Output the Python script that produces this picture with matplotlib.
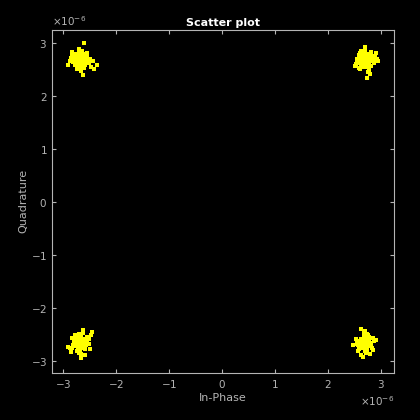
import matplotlib
matplotlib.use("Agg")
import matplotlib.pyplot as plt
from matplotlib.ticker import ScalarFormatter

# received symbols, in units of 1e-6
ul_x = [-2.68, -2.72, -2.60, -2.75, -2.65, -2.58, -2.80, -2.70, -2.62, -2.77,
        -2.66, -2.55, -2.85, -2.73, -2.63, -2.69, -2.59, -2.82, -2.71, -2.64,
        -2.50, -2.88, -2.67, -2.52, -2.78, -2.60, -2.74, -2.56, -2.91, -2.47,
        -2.62, -2.60, -2.42, -2.44, -2.36, -2.84, -2.70, -2.76, -2.66, -2.69,
        -2.61, -2.74, -2.67, -2.57, -2.79, -2.64, -2.71, -2.59, -2.76, -2.68,
        -2.63, -2.73, -2.55, -2.81, -2.66, -2.70, -2.58, -2.77, -2.62, -2.72,
        -2.65, -2.75, -2.60, -2.69, -2.54, -2.83, -2.67, -2.71, -2.63, -2.78]
ul_y = [2.70, 2.65, 2.72, 2.75, 2.60, 2.66, 2.68, 2.80, 2.78, 2.58,
        2.52, 2.74, 2.72, 2.62, 2.67, 2.57, 2.59, 2.63, 2.74, 2.84,
        2.70, 2.66, 2.46, 2.62, 2.79, 2.53, 2.50, 2.80, 2.58, 2.55,
        2.40, 3.00, 2.50, 2.65, 2.58, 2.82, 2.88, 2.69, 2.71, 2.64,
        2.68, 2.72, 2.63, 2.70, 2.66, 2.76, 2.60, 2.62, 2.64, 2.73,
        2.58, 2.68, 2.66, 2.71, 2.69, 2.56, 2.77, 2.61, 2.70, 2.75,
        2.65, 2.59, 2.64, 2.82, 2.69, 2.76, 2.55, 2.67, 2.74, 2.71]

ur_x = [2.68, 2.72, 2.62, 2.76, 2.66, 2.58, 2.80, 2.70, 2.64, 2.77,
        2.73, 2.55, 2.84, 2.60, 2.69, 2.74, 2.59, 2.82, 2.71, 2.65,
        2.52, 2.88, 2.78, 2.56, 2.67, 2.63, 2.75, 2.90, 2.86, 2.94,
        2.74, 2.79, 2.50, 2.81, 2.70, 2.61, 2.93, 2.66, 2.72, 2.68,
        2.62, 2.74, 2.67, 2.57, 2.79, 2.64, 2.71, 2.59, 2.76, 2.68,
        2.63, 2.73, 2.55, 2.81, 2.66, 2.70, 2.58, 2.77, 2.62, 2.72,
        2.65, 2.75, 2.60, 2.69, 2.54, 2.83, 2.67, 2.71, 2.63, 2.78]
ur_y = [2.70, 2.66, 2.74, 2.72, 2.60, 2.68, 2.76, 2.82, 2.64, 2.58,
        2.54, 2.62, 2.67, 2.80, 2.88, 2.78, 2.52, 2.57, 2.63, 2.72,
        2.60, 2.74, 2.48, 2.70, 2.55, 2.85, 2.45, 2.80, 2.62, 2.65,
        2.33, 2.42, 2.57, 2.83, 2.92, 2.50, 2.70, 2.77, 2.59, 2.69,
        2.68, 2.72, 2.63, 2.70, 2.66, 2.76, 2.60, 2.62, 2.64, 2.73,
        2.58, 2.68, 2.66, 2.71, 2.69, 2.56, 2.77, 2.61, 2.70, 2.75,
        2.65, 2.59, 2.64, 2.82, 2.69, 2.76, 2.55, 2.67, 2.74, 2.71]

ll_x = [-2.68, -2.72, -2.62, -2.76, -2.66, -2.58, -2.80, -2.70, -2.64, -2.77,
        -2.73, -2.55, -2.84, -2.60, -2.69, -2.74, -2.59, -2.82, -2.71, -2.65,
        -2.52, -2.88, -2.78, -2.56, -2.67, -2.63, -2.75, -2.62, -2.46, -2.48,
        -2.52, -2.86, -2.66, -2.90, -2.58, -2.70, -2.80, -2.50, -2.74, -2.64,
        -2.61, -2.74, -2.67, -2.57, -2.79, -2.64, -2.71, -2.59, -2.76, -2.68,
        -2.63, -2.73, -2.55, -2.81, -2.66, -2.70, -2.58, -2.77, -2.62, -2.72,
        -2.65, -2.75, -2.60, -2.69, -2.54, -2.83, -2.67, -2.71, -2.63, -2.78]
ll_y = [-2.68, -2.64, -2.72, -2.70, -2.60, -2.74, -2.66, -2.78, -2.58, -2.62,
        -2.80, -2.69, -2.57, -2.76, -2.54, -2.82, -2.63, -2.72, -2.86, -2.67,
        -2.59, -2.75, -2.52, -2.56, -2.88, -2.48, -2.60, -2.42, -2.45, -2.52,
        -2.68, -2.84, -2.94, -2.74, -2.90, -2.50, -2.62, -2.78, -2.71, -2.65,
        -2.68, -2.72, -2.63, -2.70, -2.66, -2.76, -2.60, -2.62, -2.64, -2.73,
        -2.58, -2.68, -2.66, -2.71, -2.69, -2.56, -2.77, -2.61, -2.70, -2.75,
        -2.65, -2.59, -2.64, -2.82, -2.69, -2.76, -2.55, -2.67, -2.74, -2.71]

lr_x = [2.68, 2.72, 2.62, 2.76, 2.66, 2.58, 2.80, 2.70, 2.64, 2.77,
        2.73, 2.55, 2.84, 2.60, 2.69, 2.74, 2.59, 2.82, 2.71, 2.65,
        2.52, 2.75, 2.67, 2.63, 2.78, 2.48, 2.86, 2.56, 2.70, 2.62,
        2.80, 2.66, 2.58, 2.84, 2.74, 2.60, 2.68, 2.90, 2.64, 2.72,
        2.62, 2.74, 2.67, 2.57, 2.79, 2.64, 2.71, 2.59, 2.76, 2.68,
        2.63, 2.73, 2.55, 2.81, 2.66, 2.70, 2.58, 2.77, 2.62, 2.72,
        2.65, 2.75, 2.60, 2.69, 2.54, 2.83, 2.67, 2.71, 2.63, 2.78]
lr_y = [-2.68, -2.64, -2.72, -2.70, -2.60, -2.74, -2.66, -2.78, -2.58, -2.62,
        -2.80, -2.69, -2.57, -2.76, -2.54, -2.82, -2.63, -2.72, -2.86, -2.67,
        -2.59, -2.52, -2.48, -2.90, -2.55, -2.70, -2.62, -2.82, -2.44, -2.40,
        -2.88, -2.92, -2.76, -2.79, -2.50, -2.68, -2.74, -2.60, -2.71, -2.65,
        -2.68, -2.72, -2.63, -2.70, -2.66, -2.76, -2.60, -2.62, -2.64, -2.73,
        -2.58, -2.68, -2.66, -2.71, -2.69, -2.56, -2.77, -2.61, -2.70, -2.75,
        -2.65, -2.59, -2.64, -2.82, -2.69, -2.76, -2.55, -2.67, -2.74, -2.71]

grey = "#b4b4b4"

fig = plt.figure(figsize=(4.2, 4.2), dpi=100, facecolor="black")
ax = fig.add_axes([0.124, 0.112, 0.814, 0.817], facecolor="black")

for xs, ys in [(ul_x, ul_y), (ur_x, ur_y), (ll_x, ll_y), (lr_x, lr_y)]:
    ax.scatter([v * 1e-6 for v in xs], [v * 1e-6 for v in ys],
               marker="s", s=7, color="yellow", linewidths=0)

ax.set_xlim(-3.21e-6, 3.245e-6)
ax.set_ylim(-3.23e-6, 3.245e-6)
ax.set_xticks([i * 1e-6 for i in range(-3, 4)])
ax.set_yticks([i * 1e-6 for i in range(-3, 4)])

for axis in (ax.xaxis, ax.yaxis):
    fmt = ScalarFormatter(useMathText=True)
    fmt.set_powerlimits((0, 0))
    axis.set_major_formatter(fmt)
    axis.get_offset_text().set_color(grey)
    axis.get_offset_text().set_fontsize(7.5)

ax.tick_params(direction="in", colors=grey, labelsize=7.5, length=3,
               top=True, right=True, width=0.8)
for sp in ax.spines.values():
    sp.set_color(grey)
    sp.set_linewidth(0.8)

ax.set_title("Scatter plot", color="white", fontsize=8, fontweight="bold", pad=3)
ax.set_xlabel("In-Phase", color=grey, fontsize=8, labelpad=2)
ax.set_ylabel("Quadrature", color=grey, fontsize=8, labelpad=2)

fig.savefig("out.png", dpi=100, facecolor="black")
